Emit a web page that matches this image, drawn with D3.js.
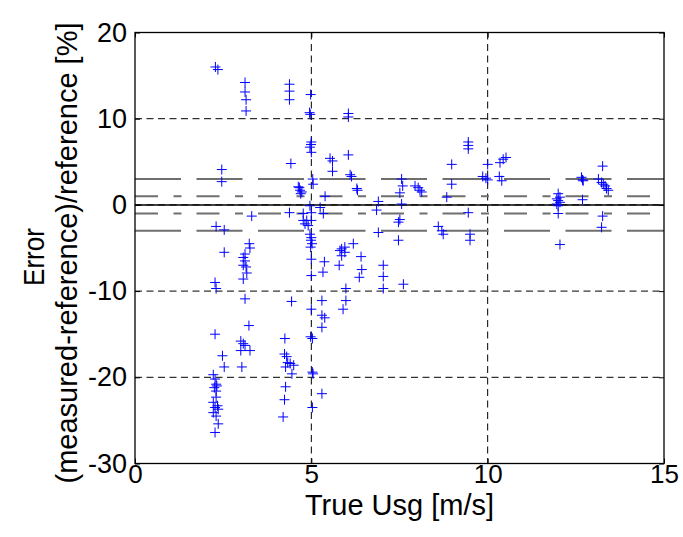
<!DOCTYPE html>
<html>
<head>
<meta charset="utf-8">
<script src="https://cdn.jsdelivr.net/npm/d3@7"></script>
<style>
  body { margin: 0; background: #fff; }
  svg { display: block; font-family: "Liberation Sans", Arial, sans-serif; }
</style>
</head>
<body>
<svg id="chart" width="683" height="537"></svg>
<script>
// ---- data ----
const usg = [
  // ~2.3 m/s
  2.28, 2.35, 2.46, 2.46, 2.30, 2.53, 2.53, 2.27, 2.30, 2.27, 2.48, 2.53,
  2.22, 2.27, 2.30, 2.32, 2.25, 2.30, 2.30, 2.22, 2.34, 2.27, 2.36, 2.22, 2.30, 2.36, 2.27,
  // ~3.1 m/s
  3.12, 3.12, 3.15, 3.15, 3.31, 3.24, 3.26, 3.12, 3.07, 3.12, 3.07, 3.15, 3.17, 3.07,
  3.12, 3.23, 3.00, 3.07, 3.12, 3.00, 3.26, 3.03,
  // ~4.4 m/s
  4.38, 4.38, 4.38, 4.42, 4.66, 4.68, 4.73, 4.70, 4.63, 4.38, 4.44, 4.25,
  4.24, 4.30, 4.33, 4.40, 4.50, 4.45, 4.27, 4.27, 4.24, 4.20,
  // ~5 m/s
  4.98, 4.95, 4.97, 5.00, 4.99, 4.96, 5.00, 5.04, 5.05, 4.96, 5.00,
  4.77, 4.77, 4.87, 5.00, 4.82, 4.91, 4.96, 5.00, 4.99, 5.02, 4.98,
  5.00, 5.00, 5.00, 4.98, 5.03, 5.03, 5.05, 5.03,
  // 5.2 - 6.5 m/s
  5.53, 5.60, 5.60, 5.39, 5.25, 5.34, 5.37, 5.33, 5.30, 5.30, 5.38, 5.30, 5.30,
  6.05, 6.05, 6.05, 6.10, 6.14, 6.29, 6.31, 5.86, 5.95, 6.19, 5.81, 5.95, 5.86,
  6.41, 5.79, 6.43, 6.36, 5.98, 5.98, 5.90,
  // 6.8 - 7.6 m/s
  6.90, 6.85, 6.90, 7.04, 7.04, 7.04, 7.56, 7.59, 7.51, 7.56, 7.51, 7.47, 7.47, 7.61,
  // 7.9 - 9.5 m/s
  7.94, 8.03, 8.08, 8.13, 8.98, 8.98, 8.84, 8.60, 8.70, 8.74, 9.45, 9.45, 9.45,
  9.45, 9.50, 9.50,
  // ~10 m/s
  10.00, 10.35, 10.44, 10.52, 9.86, 9.95, 10.00, 10.33, 10.40,
  // 12 - 13.4 m/s
  12.00, 12.05, 11.96, 12.00, 12.05, 11.96, 12.00, 12.00, 12.05,
  12.66, 12.69, 12.71, 12.69, 13.26, 13.14, 13.23, 13.28, 13.33, 13.37, 13.42, 13.26, 13.23
];
const errPct = [
  16.0, 15.7, 4.1, 2.7, -2.5, -2.9, -5.5, -9.0, -9.7, -15.0, -17.5, -18.8,
  -19.7, -20.2, -20.8, -21.0, -21.2, -21.6, -22.3, -22.9, -23.3, -23.5, -23.7, -24.1, -24.5, -25.4, -26.4,
  14.2, 13.1, 12.2, 10.9, -1.3, -4.5, -5.0, -5.7, -6.1, -6.5, -7.0, -7.2, -7.9, -8.6,
  -10.9, -14.0, -15.8, -16.1, -16.3, -16.9, -16.9, -18.8,
  14.0, 13.2, 12.2, 4.8, 2.0, 1.7, 1.5, 1.3, 2.1, -0.9, -11.2, -15.5,
  -17.3, -17.6, -18.3, -18.4, -18.6, -19.6, -18.8, -21.1, -22.6, -24.6,
  12.8, 10.7, 10.5, 7.3, 7.0, 6.7, 6.1, 3.0, 2.4, -0.1, -0.9,
  -1.0, -1.8, -1.8, -1.8, -2.2, -2.4, -3.4, -3.8, -4.1, -4.5, -4.9,
  -6.3, -8.2, -12.1, -15.3, -15.5, -19.4, -19.6, -23.5,
  5.4, 5.1, 3.9, 1.0, -0.3, -1.0, -6.6, -7.8, -11.1, -12.8, -13.1, -14.2, -21.9,
  10.6, 10.2, 5.8, 3.5, 3.3, 1.9, 1.7, -5.1, -4.9, -4.5, -5.3, -5.5, -5.9,
  -6.0, -7.0, -7.5, -8.4, -9.7, -11.1, -12.1,
  0.4, -0.6, -3.2, -7.0, -8.3, -9.7, 3.0, 2.2, 1.4, 0.1, -1.7, -2.0, -4.1, -9.2,
  2.2, 2.0, 1.7, 1.5, 4.7, 2.4, 0.9, -2.5, -3.0, -3.4, 7.3, 6.9, 6.5,
  -0.9, -3.4, -4.1,
  4.7, 4.9, 5.3, 5.5, 3.3, 3.1, 2.9, 3.3, 2.8,
  1.3, 0.9, 0.7, 0.5, 0.3, 0.1, -0.1, -1.0, -4.6,
  3.2, 2.9, 2.8, 0.6, 4.5, 3.0, 2.6, 2.4, 2.2, 1.9, 1.7, -1.3, -2.6
];
const xTicks = [0, 5, 10, 15];
const yTicks = [-30, -20, -10, 0, 10, 20];
const xGrid = [5, 10];
const yGrid = [-20, -10, 0, 10];
const bandOuter = [-3, 3];   // long-dash limits
const bandInner = [-1, 1];   // dash-dot limits
const xLabel = "True Usg [m/s]";
const yLabel1 = "Error";
const yLabel2 = "(measured-reference)/reference [%]";

// ---- drawing ----
const svg = d3.select("#chart");
const L = 135, R = 664, T = 32.5, B = 463.5;
const x = d3.scaleLinear().domain([0, 15]).range([L, R]);
const y = d3.scaleLinear().domain([-30, 20]).range([B, T]);

svg.append("rect").attr("width", 683).attr("height", 537).attr("fill", "#fff");

const plot = svg.append("g");
// grid
plot.selectAll(".gx").data(xGrid).enter().append("line")
  .attr("x1", d => x(d)).attr("x2", d => x(d)).attr("y1", T).attr("y2", B)
  .attr("stroke", "#000").attr("stroke-width", 1).attr("stroke-dasharray", "7,4.5");
plot.selectAll(".gy").data(yGrid).enter().append("line")
  .attr("x1", L).attr("x2", R).attr("y1", d => y(d)).attr("y2", d => y(d))
  .attr("stroke", "#000").attr("stroke-width", 1).attr("stroke-dasharray", "7,4.5");

// limit lines
plot.selectAll(".bo").data(bandOuter).enter().append("line")
  .attr("x1", L).attr("x2", R).attr("y1", d => y(d)).attr("y2", d => y(d))
  .attr("stroke", "#6f6f6f").attr("stroke-width", 2).attr("stroke-dasharray", "46,15.5");
plot.selectAll(".bi").data(bandInner).enter().append("line")
  .attr("x1", L).attr("x2", R).attr("y1", d => y(d)).attr("y2", d => y(d))
  .attr("stroke", "#6f6f6f").attr("stroke-width", 2).attr("stroke-dasharray", "23,15.5,8,15");
// zero line
plot.append("line").attr("x1", L).attr("x2", R).attr("y1", y(0)).attr("y2", y(0))
  .attr("stroke", "#000").attr("stroke-width", 1.5);

// markers
const pts = usg.map((u, i) => [u, errPct[i]]);
plot.selectAll(".pt").data(pts).enter().append("path")
  .attr("d", d => `M${x(d[0]) - 5},${y(d[1])}H${x(d[0]) + 5}M${x(d[0])},${y(d[1]) - 5}V${y(d[1]) + 5}`)
  .attr("stroke", "#0000ff").attr("stroke-width", 1).attr("fill", "none");

// axes
const fs = 26;
const axB = svg.append("g").attr("transform", `translate(0,${B})`)
  .call(d3.axisBottom(x).tickValues(xTicks).tickSize(-5).tickPadding(1).tickFormat(d3.format("d")));
const axL = svg.append("g").attr("transform", `translate(${L},0)`)
  .call(d3.axisLeft(y).tickValues(yTicks).tickSize(-5).tickPadding(8).tickFormat(d3.format("d")));
const axT = svg.append("g").attr("transform", `translate(0,${T})`)
  .call(d3.axisTop(x).tickValues(xTicks).tickSize(-5).tickFormat(""));
const axR = svg.append("g").attr("transform", `translate(${R},0)`)
  .call(d3.axisRight(y).tickValues(yTicks).tickSize(-5).tickFormat(""));
[axB, axL, axT, axR].forEach(a => {
  a.select(".domain").remove();
  a.selectAll(".tick line").attr("stroke", "#000").attr("stroke-width", 1);
  a.selectAll("text").attr("font-size", fs).attr("fill", "#000")
    .attr("font-family", "'Liberation Sans', Arial, sans-serif");
});
axL.selectAll("text").attr("font-size", 27).text(d => d < 0 ? "-" + Math.abs(d) : d);

// frame
svg.append("rect").attr("x", L).attr("y", T).attr("width", R - L).attr("height", B - T)
  .attr("fill", "none").attr("stroke", "#000").attr("stroke-width", 1.3);

// labels
svg.append("text").attr("x", (L + R) / 2).attr("y", 515).attr("text-anchor", "middle")
  .attr("font-size", 29).text(xLabel);
svg.append("text").attr("transform", "translate(44,257) rotate(-90)").attr("text-anchor", "middle")
  .attr("font-size", 29).attr("textLength", 58).attr("lengthAdjust", "spacingAndGlyphs").text(yLabel1);
svg.append("text").attr("transform", "translate(77,253) rotate(-90)").attr("text-anchor", "middle")
  .attr("font-size", 29).text(yLabel2);
</script>
</body>
</html>
